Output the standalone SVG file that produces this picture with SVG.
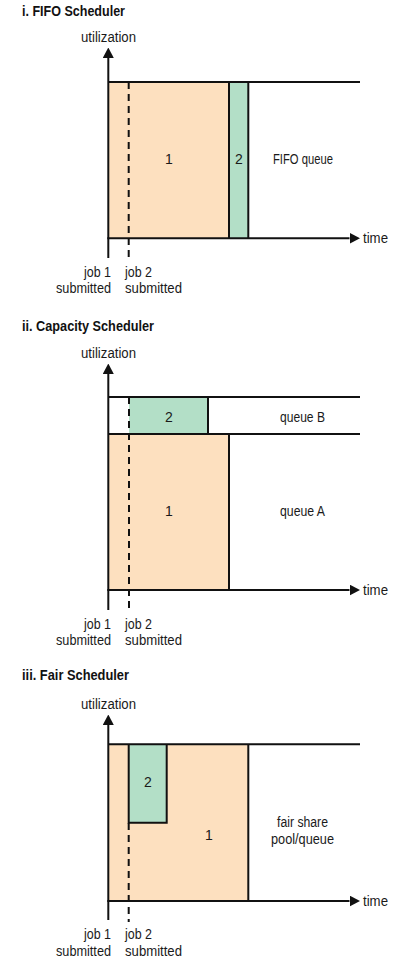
<svg xmlns="http://www.w3.org/2000/svg" width="408" height="965" viewBox="0 0 408 965">
<defs>
<style>
text{font-family:"Liberation Sans",Arial,sans-serif;font-size:14px;fill:#1a1a1a}
.t{font-weight:bold;fill:#111}
.ax{stroke:#111;stroke-width:2;fill:none}
.ln{stroke:#111;stroke-width:2;fill:none}
.dash{stroke:#111;stroke-width:2;stroke-dasharray:7 5;fill:none}
.or{fill:#fde0bf}
.gr{fill:#b3dfc7}
.m{text-anchor:middle}
.e{text-anchor:end}
</style>
<marker id="ah" viewBox="0 0 10.5 11" refX="0" refY="5.5" markerWidth="10.5" markerHeight="11" markerUnits="userSpaceOnUse" orient="auto">
<path d="M0,0 L10.5,5.5 L0,11 z" fill="#111"/>
</marker>
</defs>
<rect width="408" height="965" fill="#fff"/>

<!-- Section i -->
<g id="fifo">
<text class="t" x="22" y="16" textLength="103" lengthAdjust="spacingAndGlyphs">i. FIFO Scheduler</text>
<text x="81" y="42" textLength="55" lengthAdjust="spacingAndGlyphs">utilization</text>
<g id="fifo-job1"><rect class="or" x="108" y="82" width="121" height="156"/><text class="m" x="169" y="164">1</text></g>
<g id="fifo-job2"><rect class="gr" x="229" y="82" width="19.3" height="156"/><text class="m" x="239" y="164">2</text></g>
<g id="fifo-queue"><text x="273" y="164" textLength="60" lengthAdjust="spacingAndGlyphs">FIFO queue</text></g>
<g id="fifo-connectors">
<path class="ln" d="M108,82 H360 M229,82 V238 M248.3,82 V238"/>
<path class="dash" d="M128.7,82 V260"/>
<path class="ax" d="M108.3,258 V58" marker-end="url(#ah)"/>
<path class="ax" d="M107.3,238.3 H349.5" marker-end="url(#ah)"/>
</g>
<text x="363" y="243" textLength="25" lengthAdjust="spacingAndGlyphs">time</text>
<text class="e" x="111" y="277" textLength="27" lengthAdjust="spacingAndGlyphs">job 1</text>
<text class="e" x="111" y="293" textLength="55" lengthAdjust="spacingAndGlyphs">submitted</text>
<text x="125" y="277" textLength="27" lengthAdjust="spacingAndGlyphs">job 2</text>
<text x="125" y="293" textLength="57" lengthAdjust="spacingAndGlyphs">submitted</text>
</g>

<!-- Section ii -->
<g id="capacity">
<text class="t" x="22" y="331" textLength="132" lengthAdjust="spacingAndGlyphs">ii. Capacity Scheduler</text>
<text x="81" y="358" textLength="55" lengthAdjust="spacingAndGlyphs">utilization</text>
<g id="cap-job2"><rect class="gr" x="129" y="397" width="79" height="37"/><text class="m" x="169" y="422">2</text></g>
<g id="cap-job1"><rect class="or" x="108" y="434" width="121" height="156"/><text class="m" x="169" y="516">1</text></g>
<g id="cap-queueB"><text x="280" y="422" textLength="45" lengthAdjust="spacingAndGlyphs">queue B</text></g>
<g id="cap-queueA"><text x="280" y="516" textLength="45" lengthAdjust="spacingAndGlyphs">queue A</text></g>
<g id="cap-connectors">
<path class="ln" d="M108,397 H360 M108,434 H360 M208,397 V434 M229,434 V590"/>
<path class="dash" d="M129,397 V612"/>
<path class="ax" d="M108.3,610 V374" marker-end="url(#ah)"/>
<path class="ax" d="M107.3,590 H349.5" marker-end="url(#ah)"/>
</g>
<text x="363" y="595" textLength="25" lengthAdjust="spacingAndGlyphs">time</text>
<text class="e" x="111" y="628.5" textLength="27" lengthAdjust="spacingAndGlyphs">job 1</text>
<text class="e" x="111" y="645" textLength="55" lengthAdjust="spacingAndGlyphs">submitted</text>
<text x="125" y="628.5" textLength="27" lengthAdjust="spacingAndGlyphs">job 2</text>
<text x="125" y="645" textLength="57" lengthAdjust="spacingAndGlyphs">submitted</text>
</g>

<!-- Section iii -->
<g id="fair">
<text class="t" x="22" y="680" textLength="107" lengthAdjust="spacingAndGlyphs">iii. Fair Scheduler</text>
<text x="81" y="709" textLength="55" lengthAdjust="spacingAndGlyphs">utilization</text>
<g id="fair-job1"><rect class="or" x="108" y="744" width="140.3" height="157"/><text class="m" x="209" y="840">1</text></g>
<g id="fair-job2"><rect class="gr" x="128.7" y="744" width="38" height="78.7"/><text class="m" x="148" y="787">2</text></g>
<g id="fair-pool"><text class="m" x="302.5" y="827" textLength="51" lengthAdjust="spacingAndGlyphs">fair share</text><text class="m" x="302.5" y="843.5" textLength="63" lengthAdjust="spacingAndGlyphs">pool/queue</text></g>
<g id="fair-connectors">
<path class="ln" d="M108,744.3 H360 M248.3,744 V901 M128.7,744 V822.7 H166.7 V744"/>
<path class="dash" d="M128.7,823 V922"/>
<path class="ax" d="M108.3,920 V725" marker-end="url(#ah)"/>
<path class="ax" d="M107.3,901 H349.5" marker-end="url(#ah)"/>
</g>
<text x="363" y="906" textLength="25" lengthAdjust="spacingAndGlyphs">time</text>
<text class="e" x="111" y="939" textLength="27" lengthAdjust="spacingAndGlyphs">job 1</text>
<text class="e" x="111" y="955.5" textLength="55" lengthAdjust="spacingAndGlyphs">submitted</text>
<text x="125" y="939" textLength="27" lengthAdjust="spacingAndGlyphs">job 2</text>
<text x="125" y="955.5" textLength="57" lengthAdjust="spacingAndGlyphs">submitted</text>
</g>
</svg>
